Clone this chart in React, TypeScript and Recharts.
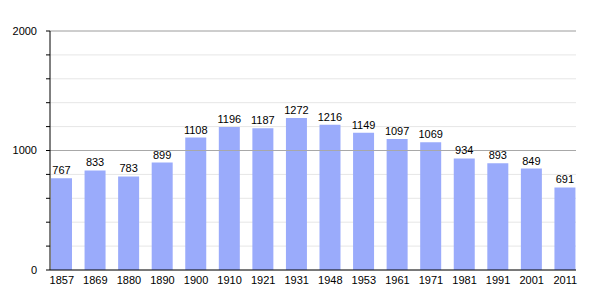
import { Bar, BarChart, CartesianGrid, LabelList, ReferenceLine, XAxis, YAxis } from "recharts";

const years = ["1857", "1869", "1880", "1890", "1900", "1910", "1921", "1931", "1948", "1953", "1961", "1971", "1981", "1991", "2001", "2011"];
const population = [767, 833, 783, 899, 1108, 1196, 1187, 1272, 1216, 1149, 1097, 1069, 934, 893, 849, 691];
const yTicks = [0, 200, 400, 600, 800, 1000, 1200, 1400, 1600, 1800, 2000];
const labelledTicks = [0, 1000, 2000];

const data = years.map((year, i) => ({ year, value: population[i] }));

const FONT = "'Liberation Sans', Arial, sans-serif";

export default function App() {
  return (
    <div style={{ position: "absolute", left: 0, top: 0, background: "#fff", fontFamily: FONT }}>
      <BarChart
        width={605}
        height={300}
        data={data}
        margin={{ top: 31, right: 29, bottom: 0, left: 0 }}
        barSize={21}
      >
        <CartesianGrid vertical={false} stroke="#e6e6e6" horizontalValues={yTicks} />
        <ReferenceLine y={1000} stroke="#a8a8a8" />
        <ReferenceLine y={2000} stroke="#a8a8a8" />
        <XAxis
          dataKey="year"
          height={30}
          padding={{ left: -5, right: -6 }}
          tickLine={false}
          axisLine={{ stroke: "#000" }}
          tick={{ fill: "#000", fontSize: 11, fontFamily: FONT }}
          tickMargin={0}
          interval={0}
        />
        <YAxis
          width={50}
          domain={[0, 2000]}
          ticks={yTicks}
          interval={0}
          axisLine={{ stroke: "#000" }}
          tickLine={{ stroke: "#000" }}
          tickSize={4}
          tickMargin={9}
          tickFormatter={(v: number) => (labelledTicks.includes(v) ? String(v) : "")}
          tick={{ fill: "#000", fontSize: 11, fontFamily: FONT }}
        />
        <Bar dataKey="value" fill="#9aabfb" isAnimationActive={false}>
          <LabelList dataKey="value" position="top" offset={4} fill="#000" fontSize={11} fontFamily={FONT} />
        </Bar>
      </BarChart>
    </div>
  );
}
